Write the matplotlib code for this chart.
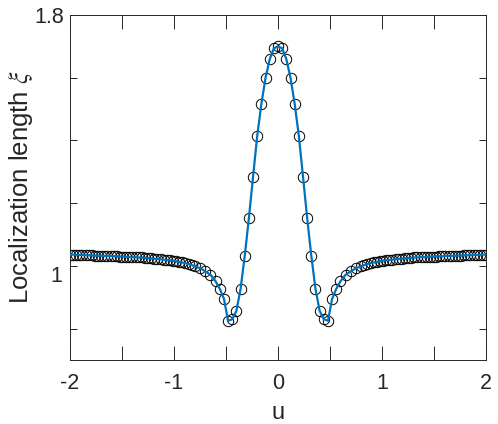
import matplotlib.pyplot as plt
import numpy as np

plt.rcParams['font.family'] = ['Liberation Sans', 'DejaVu Sans']
plt.rcParams['mathtext.fontset'] = 'stix'

# half profile (u >= 0), curve is symmetric in u
u_half = [0.00, 0.04, 0.08, 0.12, 0.16, 0.20, 0.24, 0.28, 0.32, 0.36,
          0.40, 0.44, 0.48, 0.52, 0.56, 0.60, 0.65, 0.70, 0.75,
          0.80, 0.83, 0.86, 0.89, 0.92, 0.95, 0.98, 1.01, 1.04, 1.07,
          1.10, 1.13, 1.16, 1.19, 1.22, 1.25, 1.28, 1.31, 1.34, 1.37,
          1.40, 1.43, 1.46, 1.49, 1.52, 1.55, 1.58, 1.61, 1.64, 1.67,
          1.70, 1.73, 1.76, 1.79, 1.82, 1.85, 1.88, 1.91, 1.94, 1.97, 2.00]
xi_half = [1.700, 1.694, 1.659, 1.600, 1.517, 1.415, 1.285, 1.153, 1.032, 0.927,
           0.857, 0.830, 0.825, 0.895, 0.927, 0.951, 0.972, 0.983, 0.993,
           0.999, 1.003, 1.006, 1.009, 1.011, 1.013, 1.015, 1.017, 1.018, 1.019,
           1.020, 1.021, 1.022, 1.023, 1.024, 1.025, 1.026, 1.027, 1.027, 1.028,
           1.028, 1.029, 1.029, 1.030, 1.030, 1.031, 1.031, 1.032, 1.032, 1.032,
           1.033, 1.033, 1.033, 1.034, 1.034, 1.034, 1.035, 1.035, 1.035, 1.036, 1.036]

u = np.concatenate([-np.array(u_half[:0:-1]), u_half])
xi = np.concatenate([xi_half[:0:-1], xi_half])

fig = plt.figure(figsize=(4.98, 4.24), dpi=100)
ax = fig.add_axes([0.1406, 0.1509, 0.8354, 0.8137])

ax.plot(u, xi, 'o', mfc='none', mec='black', ms=7.5, mew=0.7, zorder=2)
ax.plot(u, xi, '-', color='#0072BD', lw=1.6, zorder=3)

ax.set_xlim(-2, 2)
ax.set_ylim(0.7, 1.8)
ax.set_xticks([-2, -1.5, -1, -0.5, 0, 0.5, 1, 1.5, 2],
              labels=['-2', '', '-1', '', '0', '', '1', '', '2'])
ax.set_yticks([0.8, 1.0, 1.2, 1.4, 1.6, 1.8],
              labels=['', '', '', '', '', '1.8'])
ax.text(-0.018, 1.0, '1', transform=ax.get_yaxis_transform(),
        ha='right', va='top', fontsize=15.5, color='#262626')

ax.tick_params(axis='both', direction='in', top=True, right=True,
               labelsize=15.5, colors='#262626', width=0.7)
ax.tick_params(axis='x', length=10, pad=9)
ax.tick_params(axis='y', length=5, pad=4)
for s in ax.spines.values():
    s.set_color('#262626')
    s.set_linewidth(0.7)

ax.set_xlabel('u', fontsize=17, color='#262626', labelpad=6)
ax.set_ylabel(r'Localization length $\xi$', fontsize=18.5, color='#262626',
              labelpad=0)

fig.savefig('out.png', dpi=100)
